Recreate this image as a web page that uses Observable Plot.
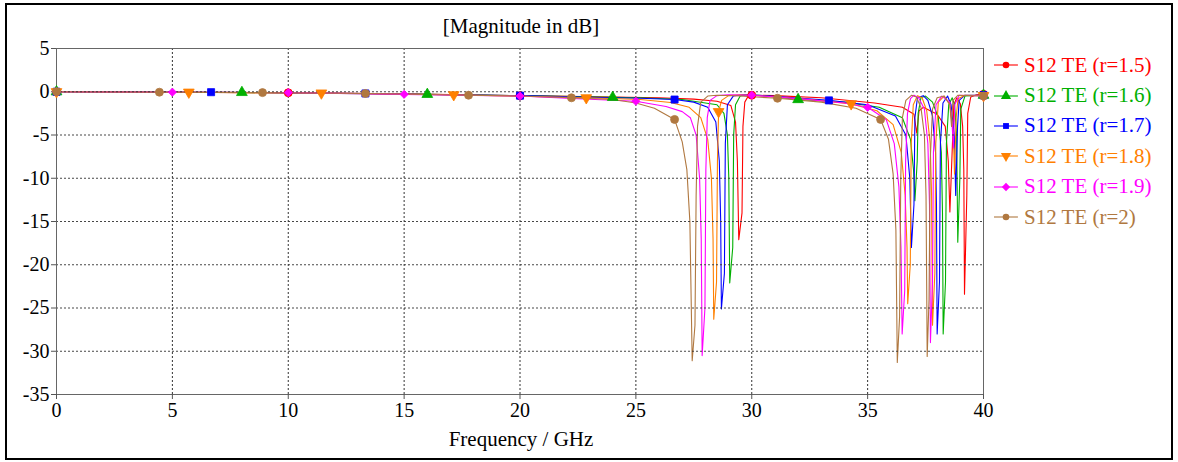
<!DOCTYPE html>
<html><head><meta charset="utf-8">
<script src="https://cdn.jsdelivr.net/npm/d3@7"></script>
<script src="https://cdn.jsdelivr.net/npm/@observablehq/plot@0.6"></script>
<style>
body{margin:0;background:#fff;}
#wrap{position:relative;width:1178px;height:462px;font-family:"Liberation Serif","Times New Roman",serif;color:#000;overflow:hidden;}
#border{position:absolute;left:5px;top:3px;width:1164px;height:453px;border:2px solid #000;}
#chart{position:absolute;left:0;top:0;}
#chart svg text{font-family:"Liberation Serif","Times New Roman",serif;font-size:20px;}
#title{position:absolute;left:521px;top:14px;transform:translateX(-50%);font-size:21px;white-space:nowrap;}
#xlabel{position:absolute;left:521px;top:427px;transform:translateX(-50%);font-size:21px;white-space:nowrap;}
#legend{position:absolute;left:993px;top:50px;}
.item{height:30.4px;display:flex;align-items:center;font-size:21px;white-space:nowrap;}
.item svg{margin-right:5px;}
</style></head>
<body>
<div id="wrap">
  <div id="chart"></div>
  <div id="title">[Magnitude in dB]</div>
  <div id="xlabel">Frequency / GHz</div>
  <div id="legend"></div>
  <div id="border"></div>
</div>
<script>
// ---- data (frequency GHz, magnitude dB) ----
const seriesNames = ["S12 TE (r=1.5)","S12 TE (r=1.6)","S12 TE (r=1.7)","S12 TE (r=1.8)","S12 TE (r=1.9)","S12 TE (r=2)"];
const seriesColors = ["#ff0000","#00b000","#0000ff","#ff8000","#ff00ff","#b07840"];
const seriesSymbols = ["circle","triangle","square","triangle","diamond2","circle"];
const symbolRotate = [0,0,0,180,0,0];

const s15 = [[0,0],[5,-0.05],[10,-0.12],[15,-0.25],[20,-0.45],[24,-0.6],[26,-0.7],[27.5,-0.85],[28.5,-1.1],[29.1,-1.6],[29.3,-3.5],[29.38,-8],[29.44,-17.1],[29.58,-14],[29.62,-4],[29.7,-1.2],[29.85,-0.5],[30,-0.4],[31,-0.45],[33,-0.7],[35.3,-1.3],[36.5,-1.8],[37.0,-2.6],[37.12,-4.8],[37.22,-2.2],[37.4,-1.8],[38.0,-2.6],[38.35,-4],[38.48,-8],[38.55,-13.9],[38.66,-6],[38.72,-1.5],[38.85,-0.7],[39.0,-1.4],[39.1,-4],[39.15,-9],[39.18,-23.4],[39.28,-12],[39.32,-2.5],[39.45,-0.6],[39.7,-0.35],[40,-0.3]];
const s16 = [[0,0],[8,-0.08],[16,-0.3],[20,-0.45],[24,-0.65],[25.2,-0.7],[27,-0.9],[28.5,-1.5],[28.8,-2.5],[28.95,-5],[29.01,-10],[29.05,-22.1],[29.18,-18],[29.22,-5],[29.3,-1.5],[29.5,-0.5],[29.8,-0.35],[30.5,-0.45],[32,-0.9],[34,-1.2],[35.5,-1.8],[36.5,-3],[36.85,-5.5],[36.98,-9],[37.04,-12.6],[37.14,-8],[37.18,-2.5],[37.3,-0.7],[37.5,-0.5],[37.8,-1.2],[38.05,-3],[38.18,-7],[38.23,-14],[38.26,-28],[38.36,-22],[38.4,-6],[38.5,-1.5],[38.65,-0.7],[38.75,-1.5],[38.84,-5],[38.89,-17.4],[38.98,-10],[39.02,-2],[39.2,-0.5],[40,-0.4]];
const s17 = [[0,0],[6.67,-0.05],[13.33,-0.2],[20,-0.45],[24,-0.7],[25.2,-0.75],[26.67,-0.9],[27.5,-1.2],[28.1,-1.8],[28.45,-3.5],[28.6,-8],[28.66,-15],[28.69,-25.1],[28.82,-21],[28.86,-6],[28.95,-1.5],[29.2,-0.5],[29.6,-0.35],[30.5,-0.45],[33.33,-1.0],[35,-1.5],[36.2,-2.8],[36.65,-5],[36.82,-10],[36.89,-18],[37.0,-13],[37.04,-3],[37.15,-0.7],[37.4,-0.45],[37.6,-1],[37.8,-2.8],[37.93,-7],[37.97,-13],[38.0,-28],[38.1,-22],[38.14,-6],[38.25,-1.3],[38.45,-0.5],[38.6,-1.5],[38.74,-5],[38.8,-12],[38.88,-4],[38.95,-1],[39.2,-0.4],[40,-0.4]];
const s18 = [[0,0],[5.71,-0.05],[11.43,-0.15],[17.14,-0.35],[22.86,-0.7],[25.2,-0.9],[26.5,-1.25],[27.3,-1.8],[27.8,-3],[28.1,-5.5],[28.26,-10],[28.33,-17],[28.36,-26.3],[28.48,-22],[28.52,-8],[28.57,-2.3],[28.7,-1],[29,-0.45],[29.5,-0.35],[30.5,-0.5],[32.5,-0.9],[34.29,-1.4],[35.4,-2.2],[36.1,-3.8],[36.45,-7],[36.62,-12],[36.7,-18],[36.73,-24.5],[36.84,-20],[36.88,-6],[36.97,-1.5],[37.15,-0.45],[37.35,-0.7],[37.55,-2.2],[37.7,-6],[37.76,-12],[37.8,-27],[37.9,-21],[37.94,-6],[38.05,-1.2],[38.3,-0.5],[38.55,-1.5],[38.7,-5],[38.75,-9.5],[38.82,-3],[38.9,-0.8],[39.2,-0.4],[40,-0.45]];
const s19 = [[0,0],[5,-0.05],[10,-0.1],[15,-0.3],[20,-0.5],[22,-0.75],[25,-1.1],[26.3,-1.7],[27,-2.3],[27.35,-3],[27.6,-5],[27.75,-10],[27.82,-17],[27.86,-30.5],[27.98,-25],[28.02,-9],[28.08,-3],[28.2,-1],[28.5,-0.45],[29,-0.35],[30,-0.4],[32,-0.8],[34,-1.3],[35,-1.8],[35.8,-3.2],[36.15,-6],[36.35,-11],[36.44,-18],[36.49,-28],[36.6,-23],[36.64,-8],[36.72,-2.5],[36.85,-0.8],[37.0,-0.4],[37.2,-0.7],[37.45,-2],[37.6,-6],[37.67,-13],[37.71,-29],[37.8,-22],[37.84,-7],[37.95,-1.5],[38.2,-0.5],[38.55,-1.2],[38.65,-4],[38.7,-6.5],[38.76,-1.5],[38.95,-0.4],[40,-0.5]];
const s20 = [[0,0],[4.44,-0.05],[8.89,-0.1],[13.33,-0.2],[17.78,-0.4],[20,-0.5],[22.22,-0.7],[24,-0.9],[25,-1.3],[25.8,-1.9],[26.67,-3.2],[27.0,-5.8],[27.2,-9],[27.33,-15],[27.43,-31.1],[27.55,-27],[27.6,-12],[27.66,-4],[27.8,-1.2],[28.1,-0.5],[28.5,-0.4],[29.5,-0.5],[31.11,-0.75],[33,-1.2],[34.5,-1.9],[35.56,-3.2],[35.9,-5.5],[36.1,-9.5],[36.22,-16],[36.28,-31.3],[36.38,-26],[36.43,-10],[36.5,-3],[36.65,-1],[36.9,-0.4],[37.1,-0.6],[37.3,-1.8],[37.45,-5],[37.52,-12],[37.57,-30.6],[37.65,-24],[37.7,-8],[37.8,-2],[38.0,-0.7],[38.3,-0.5],[38.55,-1.5],[38.62,-4],[38.68,-1],[38.9,-0.4],[40,-0.5]];
const seriesData = [s15,s16,s17,s18,s19,s20];

// marker frequencies for each series
const mk15 = [0,10,20,30,40];
const mk16 = [0,8,16,24,32,40];
const mk17 = [0,6.67,13.33,20,26.67,33.33,40];
const mk18 = [0,5.71,11.43,17.14,22.86,28.57,34.29,40];
const mk19 = [0,5,10,15,20,25,30,35,40];
const mk20 = [0,4.44,8.89,13.33,17.78,22.22,26.67,31.11,35.56,40];
const markerFreqs = [mk15,mk16,mk17,mk18,mk19,mk20];

const xTicks = [0,5,10,15,20,25,30,35,40];
const yTicks = [5,0,-5,-10,-15,-20,-25,-30,-35];

// place markers on their own curve
function onCurve(pts, f){
  for(let i=1;i<pts.length;i++){
    if(f<=pts[i][0]){const [a,ya]=pts[i-1],[b,yb]=pts[i];return ya+(yb-ya)*(f-a)/(b-a);}
  }
  return pts[pts.length-1][1];
}

const markerR = {circle:4,triangle:4,square:4,diamond2:3.7};
const lineMarks = seriesData.map((d,i)=>Plot.line(d,{x:p=>p[0],y:p=>p[1],stroke:seriesColors[i],strokeWidth:1.1}));
const dotMarks = seriesData.map((d,i)=>Plot.dot(markerFreqs[i].map(f=>[f,onCurve(d,f)]),{
  x:p=>p[0],y:p=>p[1],fill:seriesColors[i],stroke:seriesColors[i],strokeWidth:0.8,symbol:seriesSymbols[i],r:markerR[seriesSymbols[i]],rotate:symbolRotate[i]}));

const chart = Plot.plot({
  width:1178,height:462,marginLeft:56,marginRight:195,marginTop:48,marginBottom:68,
  x:{domain:[0,40]},y:{domain:[-35,5]},
  style:{fontFamily:"Liberation Serif, Times New Roman, serif",fontSize:"20px",background:"transparent",color:"#000"},
  marks:[
    Plot.gridX(xTicks.slice(1,-1),{stroke:"#333",strokeOpacity:1,strokeDasharray:"2,2"}),
    ...lineMarks,
    Plot.gridY(yTicks.slice(1,-1),{stroke:"#333",strokeOpacity:0.9,strokeDasharray:"2,2"}),
    Plot.frame({stroke:"#666"}),
    Plot.axisX(xTicks,{tickSize:5,tickPadding:3,tickFormat:d=>String(d),label:null,stroke:"#555"}),
    Plot.axisY(yTicks,{tickSize:5,tickPadding:2,tickFormat:d=>String(d),label:null,stroke:"#555"}),
    ...dotMarks
  ]
});
document.getElementById("chart").appendChild(chart);

// legend
const legend = document.getElementById("legend");
const symbolPath = {circle:d3.symbolCircle,triangle:d3.symbolTriangle,square:d3.symbolSquare,diamond2:d3.symbolSquare};
seriesNames.forEach((name,i)=>{
  const item=document.createElement("div");item.className="item";item.style.color=seriesColors[i];
  const sym=seriesSymbols[i];
  const size = sym==="triangle"?Math.PI*3.8*3.8:Math.PI*3.3*3.3;
  const rot = sym==="diamond2"?45:symbolRotate[i];
  const p=d3.symbol(symbolPath[sym],size)();
  item.innerHTML=`<svg width="26" height="14"><line x1="1" x2="25" y1="7" y2="7" stroke="${seriesColors[i]}" stroke-width="1.1"/><path d="${p}" transform="translate(13,7) rotate(${rot})" fill="${seriesColors[i]}"/></svg><span>${name}</span>`;
  legend.appendChild(item);
});
</script>
</body></html>
